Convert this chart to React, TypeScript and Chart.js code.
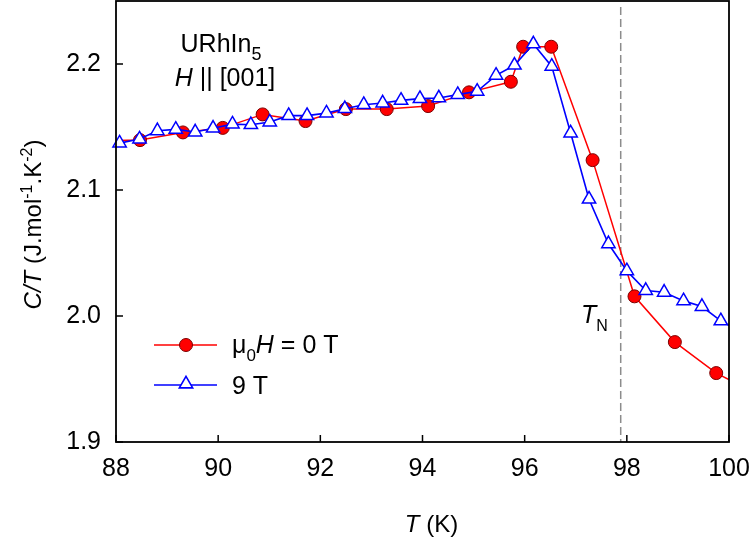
import React, { useEffect, useRef } from "react";
import { Chart, registerables } from "chart.js";

Chart.register(...registerables);

// Zero-field data (μ0H = 0 T)
const T0 = [87.6, 88.47, 89.31, 90.09, 90.87, 91.71, 92.5, 93.3, 94.11, 94.91, 95.73, 95.97, 96.52, 97.33, 98.15, 98.94, 99.75, 100.55];
const C0 = [2.139, 2.1396, 2.1457, 2.1493, 2.16, 2.1547, 2.1642, 2.1642, 2.1666, 2.1775, 2.1859, 2.2137, 2.2137, 2.1237, 2.0156, 1.9793, 1.9547, 1.938];

// 9 T data
const T9 = [88.07, 88.46, 88.81, 89.17, 89.55, 89.9, 90.28, 90.64, 91.01, 91.38, 91.74, 92.12, 92.48, 92.85, 93.22, 93.58, 93.95, 94.32, 94.69, 95.07, 95.44, 95.8, 96.17, 96.53, 96.9, 97.26, 97.64, 98.0, 98.37, 98.73, 99.11, 99.47, 99.84, 100.21];
const C9 = [2.1372, 2.1404, 2.147, 2.1481, 2.146, 2.149, 2.1523, 2.1518, 2.1539, 2.159, 2.159, 2.161, 2.1645, 2.1677, 2.169, 2.1711, 2.1725, 2.173, 2.1757, 2.1783, 2.191, 2.199, 2.2159, 2.1981, 2.1452, 2.0927, 2.0573, 2.0358, 2.0202, 2.0188, 2.012, 2.0075, 1.9961, 1.988];

const X_TICKS = [88, 90, 92, 94, 96, 98, 100];
const Y_TICKS = [1.9, 2.0, 2.1, 2.2];
const X_MIN = 88;
const X_MAX = 100;
const Y_MIN = 1.9;
const Y_MAX = 2.25;
const T_N = 97.88;

const FONT = "'Liberation Sans', Arial, Helvetica, sans-serif";
const RED = "#ff0000";
const RED_EDGE = "#7a0000";
const BLUE = "#0000ff";

type Part = { t: string; i?: boolean; sub?: boolean; sup?: boolean };

function font(size: number, italic?: boolean) {
  return `${italic ? "italic " : ""}${size}px ${FONT}`;
}

function drawRich(
  ctx: CanvasRenderingContext2D,
  parts: Part[],
  x: number,
  y: number,
  size: number,
  align: "left" | "center",
  subRatio = 0.68
) {
  const small = Math.round(size * subRatio);
  const widths = parts.map((p) => {
    ctx.font = font(p.sub || p.sup ? small : size, p.i);
    return ctx.measureText(p.t).width;
  });
  const total = widths.reduce((a, b) => a + b, 0);
  let cx = align === "center" ? x - total / 2 : x;
  ctx.textAlign = "left";
  ctx.textBaseline = "alphabetic";
  parts.forEach((p, k) => {
    ctx.font = font(p.sub || p.sup ? small : size, p.i);
    let dy = 0;
    if (p.sub) dy = size * 0.32;
    if (p.sup) dy = -size * 0.38;
    ctx.fillText(p.t, cx, y + dy);
    cx += widths[k];
  });
}

function inRange(x: number) {
  return x >= X_MIN - 0.05 && x <= X_MAX + 0.05;
}

function triangle(ctx: CanvasRenderingContext2D, x: number, y: number, r: number) {
  ctx.beginPath();
  for (let k = 0; k < 3; k++) {
    const a = -Math.PI / 2 + (k * 2 * Math.PI) / 3;
    const px = x + r * Math.cos(a);
    const py = y + r * Math.sin(a);
    if (k === 0) ctx.moveTo(px, py);
    else ctx.lineTo(px, py);
  }
  ctx.closePath();
}

const overlay = {
  id: "overlay",
  beforeDatasetsDraw(chart: any) {
    const ctx: CanvasRenderingContext2D = chart.ctx;
    const { top, bottom } = chart.chartArea;
    const x = chart.scales.x.getPixelForValue(T_N);
    ctx.save();
    ctx.strokeStyle = "#8c8c8c";
    ctx.lineWidth = 1.5;
    ctx.setLineDash([8, 4]);
    ctx.beginPath();
    ctx.moveTo(x, top + 6);
    ctx.lineTo(x, bottom);
    ctx.stroke();
    ctx.restore();
  },
  afterDraw(chart: any) {
    const ctx: CanvasRenderingContext2D = chart.ctx;
    const { left, right, top, bottom } = chart.chartArea;
    const xs = chart.scales.x;
    const ys = chart.scales.y;
    ctx.save();
    // frame
    ctx.strokeStyle = "#000";
    ctx.lineWidth = 1.8;
    ctx.strokeRect(left, top, right - left, bottom - top);
    // inward ticks
    ctx.lineWidth = 1.5;
    ctx.beginPath();
    X_TICKS.forEach((v) => {
      const px = xs.getPixelForValue(v);
      ctx.moveTo(px, bottom);
      ctx.lineTo(px, bottom - 7);
    });
    Y_TICKS.forEach((v) => {
      const py = ys.getPixelForValue(v);
      ctx.moveTo(left, py);
      ctx.lineTo(left + 7, py);
    });
    ctx.stroke();

    ctx.fillStyle = "#000";
    // sample annotation
    drawRich(ctx, [{ t: "URhIn" }, { t: "5", sub: true }], 221, 52, 25, "center", 0.72);
    drawRich(ctx, [{ t: "H", i: true }, { t: " || [001]" }], 225, 86, 25, "center");
    // T_N label
    drawRich(ctx, [{ t: "T", i: true }, { t: "N", sub: true }], 581, 323, 25, "left", 0.62);

    // axis titles
    drawRich(ctx, [{ t: "T", i: true }, { t: " (K)" }], (left + right) / 2 + 9, 532, 24, "center");
    ctx.save();
    ctx.translate(41, (top + bottom) / 2 + 3);
    ctx.rotate(-Math.PI / 2);
    drawRich(
      ctx,
      [
        { t: "C/T", i: true },
        { t: " (J.mol" },
        { t: "-1", sup: true },
        { t: ".K" },
        { t: "-2", sup: true },
        { t: ")" },
      ],
      0,
      0,
      24,
      "center",
      0.65
    );
    ctx.restore();

    // legend
    const lx0 = 154;
    const lx1 = 217;
    const lmx = 186;
    const ly0 = 345;
    const ly1 = 385;
    ctx.lineWidth = 1.5;
    ctx.strokeStyle = RED;
    ctx.beginPath();
    ctx.moveTo(lx0, ly0);
    ctx.lineTo(lx1, ly0);
    ctx.stroke();
    ctx.beginPath();
    ctx.arc(lmx, ly0, 6.5, 0, Math.PI * 2);
    ctx.fillStyle = RED;
    ctx.fill();
    ctx.lineWidth = 1;
    ctx.strokeStyle = RED_EDGE;
    ctx.stroke();

    ctx.lineWidth = 1.6;
    ctx.strokeStyle = BLUE;
    ctx.beginPath();
    ctx.moveTo(lx0, ly1);
    ctx.lineTo(lx1, ly1);
    ctx.stroke();
    triangle(ctx, lmx, ly1 - 1, 7.7);
    ctx.fillStyle = "#fff";
    ctx.fill();
    ctx.stroke();

    ctx.fillStyle = "#000";
    drawRich(
      ctx,
      [{ t: "\u03bc" }, { t: "0", sub: true }, { t: "H", i: true }, { t: " = 0 T" }],
      232,
      353,
      25,
      "left"
    );
    drawRich(ctx, [{ t: "9 T" }], 232, 394, 25, "left");
    ctx.restore();
  },
};

export default function App() {
  const ref = useRef<HTMLCanvasElement | null>(null);

  useEffect(() => {
    if (!ref.current) return;
    Chart.defaults.font.family = FONT;
    Chart.defaults.color = "#000";
    const zero = T0.map((t, k) => ({ x: t, y: C0[k] }));
    const nine = T9.map((t, k) => ({ x: t, y: C9[k] }));
    const chart = new Chart(ref.current, {
      type: "line",
      data: {
        datasets: [
          {
            label: "9 T",
            data: nine,
            borderColor: BLUE,
            borderWidth: 1.6,
            backgroundColor: "#fff",
            pointStyle: "triangle",
            pointRadius: (c: any) => (inRange(c.raw?.x) ? 7.7 : 0),
            pointBorderColor: BLUE,
            pointBackgroundColor: "#fff",
            pointBorderWidth: 1.5,
            tension: 0,
            clip: { left: 5, top: 5, right: 0, bottom: 5 },
          } as any,
          {
            label: "\u03bc0H = 0 T",
            data: zero,
            borderColor: RED,
            borderWidth: 1.5,
            backgroundColor: RED,
            pointStyle: "circle",
            pointRadius: (c: any) => (inRange(c.raw?.x) ? 6.5 : 0),
            pointBorderColor: RED_EDGE,
            pointBackgroundColor: RED,
            pointBorderWidth: 1,
            tension: 0,
            clip: { left: 0, top: 5, right: 0, bottom: 5 },
          } as any,
        ],
      },
      options: {
        animation: false,
        responsive: true,
        maintainAspectRatio: false,
        layout: { autoPadding: false, padding: { top: 1, right: 26, left: 0, bottom: 0 } },
        plugins: {
          legend: { display: false },
          tooltip: { enabled: false },
          title: { display: false },
        },
        scales: {
          x: {
            type: "linear",
            min: X_MIN,
            max: X_MAX,
            grid: { display: false, drawTicks: false },
            border: { display: false },
            afterFit: (s: any) => {
              s.height = 100;
              s.paddingLeft = 0;
              s.paddingRight = 0;
              s.paddingTop = 0;
              s.paddingBottom = 0;
            },
            afterBuildTicks: (s: any) => {
              s.ticks = X_TICKS.map((v) => ({ value: v }));
            },
            ticks: {
              padding: 12,
              font: { size: 25 },
              color: "#000",
              maxRotation: 0,
              callback: (v: any) => String(v),
            },
          },
          y: {
            type: "linear",
            min: Y_MIN,
            max: Y_MAX,
            grid: { display: false, drawTicks: false },
            border: { display: false },
            afterFit: (s: any) => {
              s.width = 116;
              s.paddingLeft = 0;
              s.paddingRight = 0;
              s.paddingTop = 0;
              s.paddingBottom = 0;
            },
            afterBuildTicks: (s: any) => {
              s.ticks = Y_TICKS.map((v) => ({ value: v }));
            },
            ticks: {
              padding: 15,
              font: { size: 25 },
              color: "#000",
              callback: (v: any) => Number(v).toFixed(1),
            },
          },
        },
      },
      plugins: [overlay],
    });
    return () => chart.destroy();
  }, []);

  return (
    <div style={{ position: "absolute", left: 0, top: 0, width: 755, height: 542, background: "#fff" }}>
      <canvas ref={ref} />
    </div>
  );
}
